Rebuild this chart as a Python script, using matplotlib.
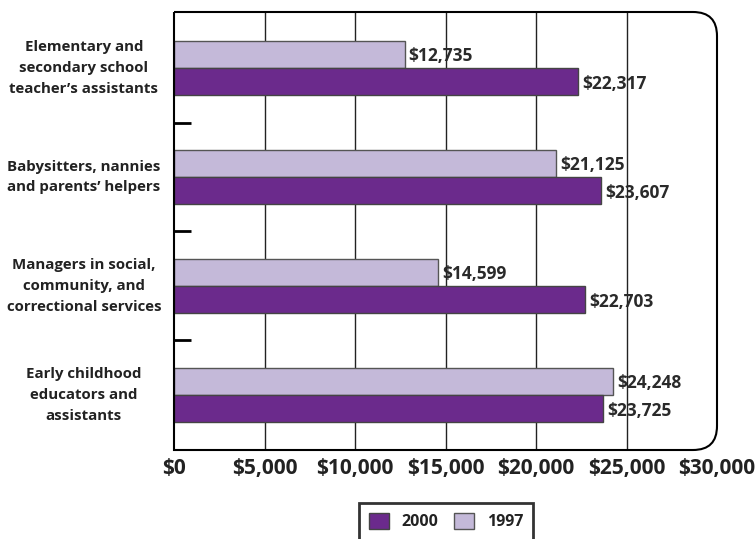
import numpy as np
import matplotlib
matplotlib.use("Agg")
import matplotlib.pyplot as plt
from matplotlib.path import Path
from matplotlib.patches import PathPatch

plt.rcParams['font.family'] = ['Open Sans', 'DejaVu Sans']

# average earnings by occupation
categories = ["Elementary and\nsecondary school\nteacher\u2019s assistants",
              "Babysitters, nannies\nand parents\u2019 helpers",
              "Managers in social,\ncommunity, and\ncorrectional services",
              "Early childhood\neducators and\nassistants"]
earn_1997 = [12735, 21125, 14599, 24248]
earn_2000 = [22317, 23607, 22703, 23725]
x_ticks = [0, 5000, 10000, 15000, 20000, 25000, 30000]
grid_x = [5000, 10000, 15000, 20000, 25000]

c2000 = "#6b2a8c"
c1997 = "#c4b9d9"

fig = plt.figure(figsize=(7.56, 5.39), dpi=100)
ax = fig.add_axes([174/756, 1-450/539, 543/756, 438/539])

y = np.arange(len(categories))
h = 0.25
for gx in grid_x:
    ax.axvline(gx, color="#222222", lw=1.0, zorder=0)

ax.barh(y - h/2, earn_1997, height=h, color=c1997, edgecolor="#555555", lw=1, zorder=2, label="1997")
ax.barh(y + h/2, earn_2000, height=h, color=c2000, edgecolor="#444444", lw=1, zorder=2, label="2000")

for yi, v in zip(y, earn_1997):
    ax.annotate("${:,}".format(v), (v, yi - h/2), xytext=(3, -1), textcoords="offset points",
                va="center", ha="left", fontsize=12.5, fontweight="bold", color="#2a2a2a")
for yi, v in zip(y, earn_2000):
    ax.annotate("${:,}".format(v), (v, yi + h/2), xytext=(3, -2), textcoords="offset points",
                va="center", ha="left", fontsize=12.5, fontweight="bold", color="#2a2a2a")

# category names, centred to the left of the plot
for yi, name in zip(y, categories):
    ax.text(-0.166, yi, name, transform=ax.get_yaxis_transform(), ha="center", va="center",
            multialignment="center", fontsize=10.8, fontweight="bold", color="#222222",
            linespacing=1.6)

ax.set_xlim(0, 30000)
ax.set_ylim(3.505, -0.514)
ax.set_xticks(x_ticks)
ax.set_xticklabels(["${:,}".format(t) for t in x_ticks], fontsize=15, fontweight="bold", color="#222222")
ax.tick_params(axis="x", length=0, pad=6)
ax.set_yticks([0.5, 1.5, 2.5])
ax.set_yticklabels([])
ax.tick_params(axis="y", direction="in", length=12, width=2, color="black")

for s in ax.spines.values():
    s.set_visible(False)

# frame with rounded right-hand corners
rx, ry = 24/543, 24/438
verts = [(0, 1), (1-rx, 1), (1, 1), (1, 1-ry), (1, ry), (1, 0), (1-rx, 0), (0, 0), (0, 1)]
codes = [Path.MOVETO, Path.LINETO, Path.CURVE3, Path.CURVE3, Path.LINETO,
         Path.CURVE3, Path.CURVE3, Path.LINETO, Path.LINETO]
frame = PathPatch(Path(verts, codes), transform=ax.transAxes, fill=False,
                  edgecolor="black", lw=1.5, clip_on=False, zorder=5)
ax.add_patch(frame)

handles, labels = ax.get_legend_handles_labels()
leg = fig.legend(handles[::-1], labels[::-1], loc="upper center", bbox_to_anchor=(446/756, 1-503/539),
                 ncol=2, frameon=True, fancybox=False, handlelength=1.25, handleheight=1.25,
                 handletextpad=0.8, columnspacing=0.95, borderpad=0.6, borderaxespad=0,
                 prop={"size": 11.5, "weight": "bold"})
leg.get_frame().set_edgecolor("black")
leg.get_frame().set_linewidth(2)
for t in leg.get_texts():
    t.set_color("#222222")

fig.savefig("out.png", dpi=100)
